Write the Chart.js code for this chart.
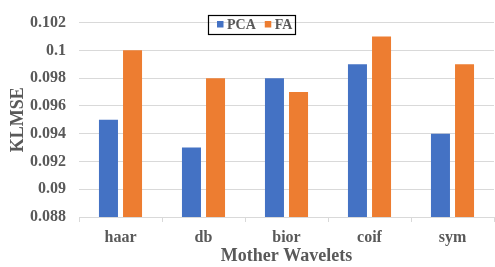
<!DOCTYPE html>
<html>
<head>
<meta charset="utf-8">
<script src="https://cdn.jsdelivr.net/npm/chart.js@4"></script>
<style>
  html, body { margin: 0; padding: 0; background: #fff; }
  #wrap { width: 495px; height: 267px; position: relative; }
</style>
</head>
<body>
<div id="wrap"><canvas id="myChart"></canvas></div>
<script>
const categories = ['haar', 'db', 'bior', 'coif', 'sym'];
const pcaValues = [0.095, 0.093, 0.098, 0.099, 0.094];
const faValues = [0.100, 0.098, 0.097, 0.101, 0.099];
const seriesNames = ['PCA', 'FA'];
const yTicks = { min: 0.088, max: 0.102, step: 0.002 };

const textColor = '#595959';
const gridColor = '#d9d9d9';
const serif = '"Liberation Serif", "Times New Roman", serif';

// legend box floats inside the plot, drawn by hand
const boxLegend = {
  id: 'boxLegend',
  afterDraw(chart) {
    const ctx = chart.ctx;
    ctx.save();
    ctx.strokeStyle = '#000';
    ctx.lineWidth = 1.2;
    ctx.strokeRect(208.5, 15.5, 87, 19);
    ctx.font = 'bold 14px ' + serif;
    ctx.textBaseline = 'middle';
    ctx.fillStyle = textColor;
    let x = 217;
    chart.data.datasets.forEach(ds => {
      ctx.fillStyle = ds.backgroundColor;
      ctx.fillRect(x, 21, 6.5, 6.5);
      ctx.fillStyle = textColor;
      ctx.fillText(ds.label, x + 10, 25);
      x += 10 + ctx.measureText(ds.label).width + 9;
    });
    ctx.restore();
  }
};

const ctx = document.getElementById('myChart').getContext('2d');
new Chart(ctx, {
  type: 'bar',
  data: {
    labels: categories,
    datasets: [
      {
        label: seriesNames[0],
        data: pcaValues,
        backgroundColor: '#4472C4',
        categoryPercentage: 0.58,
        barPercentage: 0.79,
      },
      {
        label: seriesNames[1],
        data: faValues,
        backgroundColor: '#ED7D31',
        categoryPercentage: 0.58,
        barPercentage: 0.79,
      },
    ],
  },
  options: {
    responsive: true,
    maintainAspectRatio: false,
    animation: false,
    layout: {
      padding: { top: 8, right: 1, left: 0, bottom: 0 },
    },
    plugins: {
      legend: { display: false },
      tooltip: { enabled: false },
    },
    scales: {
      x: {
        grid: {
          drawOnChartArea: false,
          color: gridColor,
          tickLength: 5,
        },
        border: { color: gridColor },
        ticks: {
          color: textColor,
          font: { family: serif, size: 16, weight: 'bold' },
          padding: 6,
        },
        title: {
          display: true,
          text: 'Mother Wavelets',
          color: textColor,
          font: { family: serif, size: 18, weight: 'bold' },
          padding: { top: 0, bottom: 0 },
        },
        afterFit(scale) { scale.height = 50; },
      },
      y: {
        min: yTicks.min,
        max: yTicks.max,
        grid: {
          color: gridColor,
          drawTicks: false,
        },
        border: { display: false },
        ticks: {
          stepSize: yTicks.step,
          color: textColor,
          font: { family: serif, size: 16, weight: 'bold' },
          padding: 13,
          callback: v => String(Number(v.toFixed(3))),
        },
        title: {
          display: true,
          text: 'KLMSE',
          color: textColor,
          font: { family: serif, size: 18, weight: 'bold' },
          padding: { top: 8, bottom: 0 },
        },
        afterFit(scale) { scale.width = 79; },
      },
    },
  },
  plugins: [boxLegend],
});
</script>
</body>
</html>
